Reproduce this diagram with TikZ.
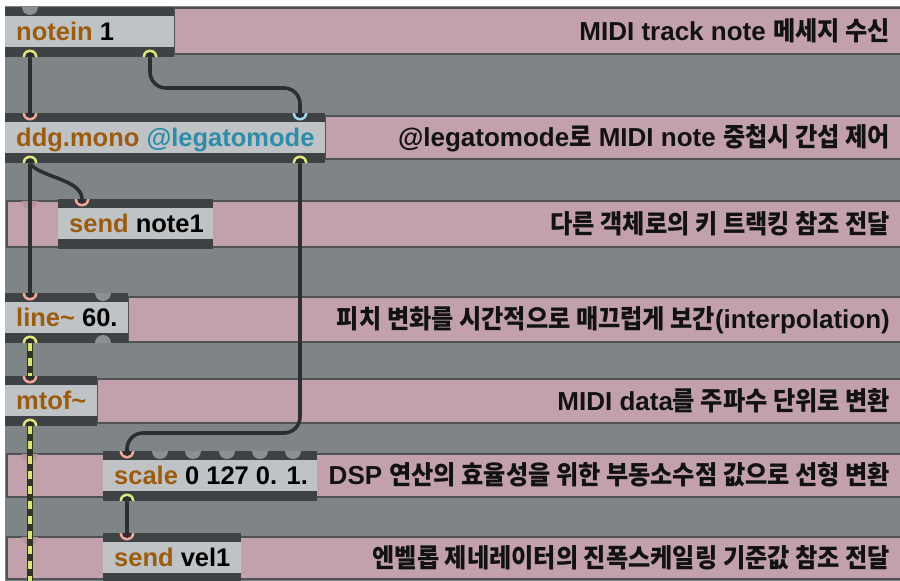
\documentclass[tikz,border=0pt]{standalone}
\usepackage{fontspec}
\setmainfont{Liberation Sans}
\newfontfamily\korfont[FakeStretch=0.93]{Noto Sans CJK KR}
\newcommand\kor[1]{{\korfont\bfseries #1}}
\usetikzlibrary{calc}
\definecolor{bg}{HTML}{7F8487}
\definecolor{objdark}{HTML}{3E4245}
\definecolor{objbody}{HTML}{C0C3C6}
\definecolor{cmtpink}{HTML}{C2A1AC}
\definecolor{cmtline}{HTML}{4F5356}
\definecolor{objbrown}{HTML}{9B5C0F}
\definecolor{attrteal}{HTML}{2D8CAA}
\definecolor{cablecol}{HTML}{2B2F32}
\definecolor{portyellow}{HTML}{E1E67A}
\definecolor{portsalmon}{HTML}{F2A796}
\definecolor{portblue}{HTML}{A6D5EA}
\definecolor{porthidden}{HTML}{8C9093}
\definecolor{sigyellow}{HTML}{DDE57A}
\definecolor{sigdark}{HTML}{2F3520}
\definecolor{cmtport}{HTML}{B6939E}
\tikzset{
 objnode/.style={fill=objdark, inner sep=0pt, outer sep=0pt, minimum height=50pt},
 objtext/.style={inner sep=0pt, font=\fontsize{25.5}{30}\selectfont\bfseries, text=black},
 cmtnode/.style={fill=cmtpink, draw=cmtline, line width=1.6pt, inner sep=0pt, outer sep=0pt},
 cmttext/.style={inner sep=0pt, font=\fontsize{26}{30}\selectfont\bfseries, text=black!93},
 cable/.style={draw=cablecol, line width=3.6pt, line cap=round},
 sigbase/.style={draw=sigdark, line width=6pt},
 sigdash/.style={draw=sigyellow, line width=3.4pt, dash pattern=on 8pt off 7pt},
}
\newcommand\mobj[5]{%
  \node[objnode, minimum width=#4pt, anchor=north west] (#1) at (#2,#3) {};
  \fill[objbody] ($(#1.north west)+(0,9)$) rectangle ($(#1.south east)+(0,-10)$);
  \node[objtext, anchor=base west] (#1-t) at ($(#1.north west)+(11,33)$) {#5};
}
\newcommand\cmt[6]{%
  \node[cmtnode, anchor=north west, minimum width={#4pt-#2pt}, minimum height={#5pt-#3pt}] (#1) at (#2,#3) {};
  \node[cmttext, anchor=base east] (#1-t) at ($(#1.east)+(-13,9)$) {#6};
}
% radius given in pt: angles are on the page, 270 = down
\newcommand\inport[2]{%
  \fill[#2] (#1) ++(-7.5pt,0) arc[start angle=180, end angle=360, radius=7.5pt] -- cycle;
  \fill[cablecol] (#1) ++(-5pt,0) arc[start angle=180, end angle=360, radius=5pt] -- cycle;
}
\newcommand\outport[2]{%
  \fill[#2] (#1) ++(-7.5pt,0) arc[start angle=180, end angle=0, radius=7.5pt] -- cycle;
  \fill[cablecol] (#1) ++(-5pt,0) arc[start angle=180, end angle=0, radius=5pt] -- cycle;
}
\newcommand\hiddenin[2]{%
  \fill[#2] (#1) ++(-8pt,0) arc[start angle=180, end angle=360, radius=8pt] -- cycle;
}
\newcommand\hiddenout[2]{%
  \fill[#2] (#1) ++(-8pt,0) arc[start angle=180, end angle=0, radius=8pt] -- cycle;
}
\begin{document}
\begin{tikzpicture}[x=1pt, y=-1pt]
\useasboundingbox (0,0) rectangle (900,581);
\clip (0,0) rectangle (900,581);
\fill[white] (0,0) rectangle (900,581);
\fill[bg] (5,6) rectangle (905,590);
% comments
\cmt{c1}{174}{8}{903}{54}{MIDI track note \kor{메세지 수신}}
\cmt{c2}{325}{116}{903}{159}{@legatomode\kor{로} MIDI note \kor{중첩시 간섭 제어}}
\cmt{c3}{7}{201}{903}{247}{\kor{다른 객체로의 키 트랙킹 참조 전달}}
\cmt{c4}{128}{297}{903}{342}{\kor{피치 변화를 시간적으로 매끄럽게 보간}(interpolation)}
\cmt{c5}{97}{379}{903}{423}{MIDI data\kor{를 주파수 단위로 변환}}
\cmt{c6}{7}{454}{903}{497}{DSP \kor{연산의 효율성을 위한 부동소수점 값으로 선형 변환}}
\cmt{c7}{7}{537}{903}{579}{\kor{엔벨롭 제네레이터의 진폭스케일링 기준값 참조 전달}}
\coordinate (c3-p) at ($(c3.north west)+(23,0)$);
\coordinate (c6-p) at ($(c6.north west)+(23,0)$);
\coordinate (c7-p) at ($(c7.north west)+(23,0)$);
\hiddenin{c3-p}{cmtport}
\hiddenin{c6-p}{cmtport}
\hiddenin{c7-p}{cmtport}
% objects
\mobj{notein}{5}{7}{169}{\textcolor{objbrown}{notein} 1}
\mobj{ddg}{5}{113}{320}{\textcolor{objbrown}{ddg.mono} \textcolor{attrteal}{@legatomode}}
\mobj{note1}{58}{199}{155}{\textcolor{objbrown}{send} note1}
\mobj{line}{5}{293}{123}{\textcolor{objbrown}{line\textasciitilde} 60.}
\mobj{mtof}{5}{376}{92}{\textcolor{objbrown}{mtof\textasciitilde}}
\mobj{scale}{103}{451}{214}{\textcolor{objbrown}{scale} 0 127 0. 1.}
\mobj{vel1}{103}{533}{138}{\textcolor{objbrown}{send} vel1}
% port coordinates
\coordinate (notein-h0) at ($(notein.north west)+(25,0)$);
\coordinate (notein-o0) at ($(notein.south west)+(25,0)$);
\coordinate (notein-o1) at ($(notein.south east)+(-24,0)$);
\coordinate (ddg-i0) at ($(ddg.north west)+(25,0)$);
\coordinate (ddg-i1) at ($(ddg.north east)+(-25,0)$);
\coordinate (ddg-o0) at ($(ddg.south west)+(25,0)$);
\coordinate (ddg-o1) at ($(ddg.south east)+(-25,0)$);
\coordinate (note1-i0) at ($(note1.north west)+(24,0)$);
\coordinate (line-i0) at ($(line.north west)+(25,0)$);
\coordinate (line-h1) at ($(line.north west)+(98,0)$);
\coordinate (line-o0) at ($(line.south west)+(25,0)$);
\coordinate (line-ho1) at ($(line.south west)+(98,0)$);
\coordinate (mtof-i0) at ($(mtof.north west)+(25,0)$);
\coordinate (mtof-o0) at ($(mtof.south west)+(25,0)$);
\coordinate (scale-i0) at ($(scale.north west)+(24,0)$);
\coordinate (scale-h1) at ($(scale.north west)+(57,0)$);
\coordinate (scale-h2) at ($(scale.north west)+(90,0)$);
\coordinate (scale-h3) at ($(scale.north west)+(124,0)$);
\coordinate (scale-h4) at ($(scale.north west)+(157,0)$);
\coordinate (scale-h5) at ($(scale.north west)+(190,0)$);
\coordinate (scale-o0) at ($(scale.south west)+(24,0)$);
\coordinate (vel1-i0) at ($(vel1.north west)+(24,0)$);
\coordinate (sigend) at (30,592);
% hidden ports
\hiddenin{notein-h0}{porthidden}
\hiddenin{line-h1}{porthidden}
\hiddenout{line-ho1}{porthidden}
\hiddenin{scale-h1}{porthidden}
\hiddenin{scale-h2}{porthidden}
\hiddenin{scale-h3}{porthidden}
\hiddenin{scale-h4}{porthidden}
\hiddenin{scale-h5}{porthidden}
% cables
\draw[cable] (notein-o0) -- (ddg-i0);
\draw[cable, rounded corners=16pt] (notein-o1) |- ($(ddg-i1)+(0,-25)$) -- (ddg-i1);
\draw[cable] (ddg-o0) -- (line-i0);
\draw[cable] (ddg-o0) .. controls ($(ddg-o0)+(8,14)$) and ($(note1-i0)+(0,-20)$) .. (note1-i0);
\draw[cable, rounded corners=16pt] (ddg-o1) |- ($(scale-i0)+(0,-18)$) -- (scale-i0);
\draw[cable] (scale-o0) -- (vel1-i0);
\draw[sigbase] (line-o0) -- (mtof-i0);
\draw[sigdash] (line-o0) -- (mtof-i0);
\draw[sigbase] (mtof-o0) -- (sigend);
\draw[sigdash] (mtof-o0) -- (sigend);
% active ports
\outport{notein-o0}{portyellow}
\outport{notein-o1}{portyellow}
\inport{ddg-i0}{portsalmon}
\inport{ddg-i1}{portblue}
\outport{ddg-o0}{portyellow}
\outport{ddg-o1}{portyellow}
\inport{note1-i0}{portsalmon}
\inport{line-i0}{portsalmon}
\outport{line-o0}{portyellow}
\inport{mtof-i0}{portsalmon}
\outport{mtof-o0}{portyellow}
\inport{scale-i0}{portsalmon}
\outport{scale-o0}{portyellow}
\inport{vel1-i0}{portsalmon}
\end{tikzpicture}
\end{document}
